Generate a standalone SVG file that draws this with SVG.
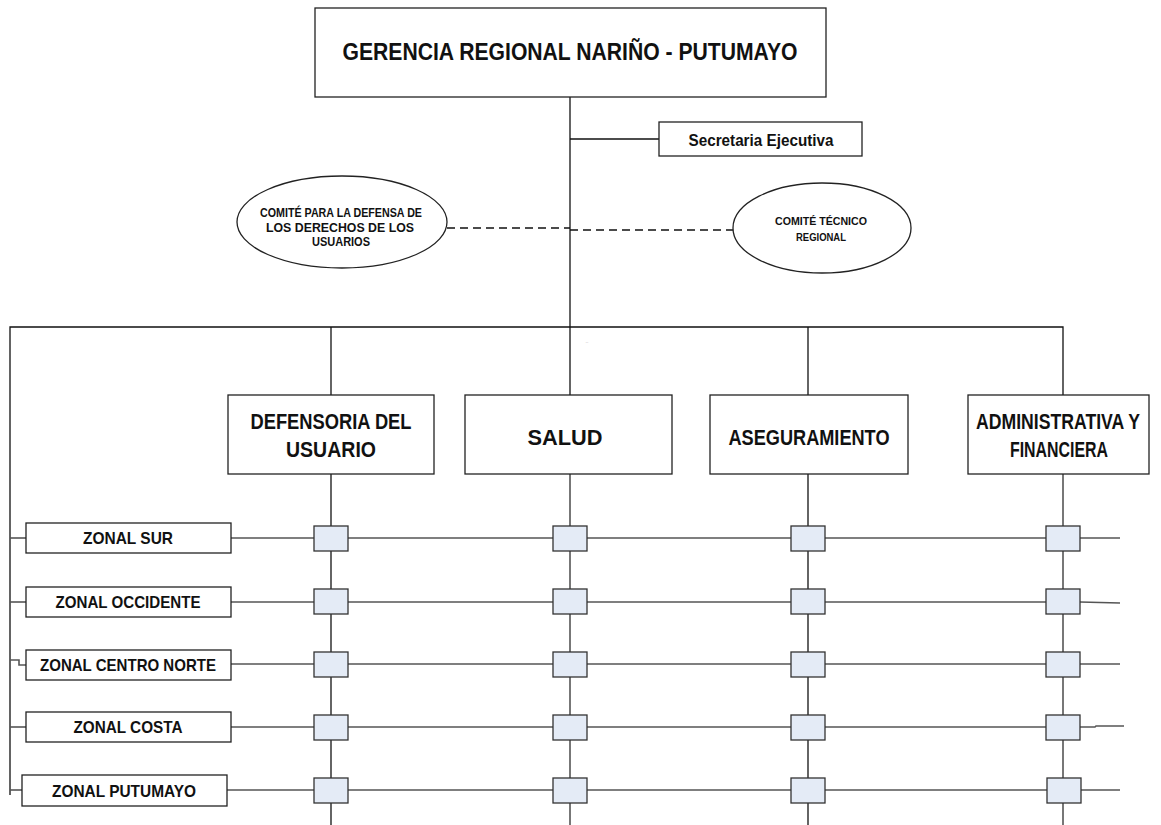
<svg xmlns="http://www.w3.org/2000/svg" width="1161" height="825" viewBox="0 0 1161 825">
<style>
.box{fill:#fff;stroke:#222;stroke-width:1.3}
.sq{fill:#e4ebf6;stroke:#333;stroke-width:1.3}
.ln{fill:none;stroke:#111;stroke-width:1.3}
.rl{fill:none;stroke:#555;stroke-width:1.6}
.ds{fill:none;stroke:#111;stroke-width:1.5;stroke-dasharray:8 5}
text{font-family:"Liberation Sans",Arial,sans-serif;font-weight:bold;fill:#111;text-anchor:middle}
.t1{font-size:24.5px}
.t2{font-size:17px}
.t3{font-size:12px}
.t4{font-size:11px}
.t5{font-size:22px}
.t6{font-size:17px}
</style>
<rect width="1161" height="825" fill="#fff"/>
<g id="connectors">
<line class="ln" x1="570" y1="97" x2="570" y2="395"/>
<line class="ln" x1="570" y1="139" x2="659" y2="139"/>
<line class="ds" x1="447" y1="228" x2="570" y2="228"/>
<line class="ds" x1="570" y1="230" x2="733" y2="230"/>
<polyline class="ln" points="10,795 10,327 1063,327 1063,395"/>
<line class="ln" x1="331" y1="327" x2="331" y2="395"/>
<line class="ln" x1="808" y1="327" x2="808" y2="395"/>
<line class="ln" x1="331" y1="474" x2="331" y2="825"/>
<line class="rl" x1="570" y1="474" x2="570" y2="825"/>
<line class="ln" x1="808" y1="474" x2="808" y2="825"/>
<line class="rl" x1="1063" y1="474" x2="1063" y2="825"/>
<line class="rl" x1="10" y1="538" x2="26" y2="538"/>
<line class="rl" x1="10" y1="602" x2="26" y2="602"/>
<polyline class="rl" points="10,660 19,660 19,665 26,665"/>
<line class="rl" x1="10" y1="727" x2="26" y2="727"/>
<line class="rl" x1="10" y1="790" x2="22" y2="790"/>
<line class="rl" x1="231" y1="538" x2="1120" y2="538"/>
<polyline class="rl" points="231,602 1080,602 1120,603"/>
<line class="rl" x1="231" y1="664" x2="1120" y2="664"/>
<polyline class="rl" points="231,727 1095,727 1096,726 1124,726"/>
<line class="rl" x1="227" y1="790" x2="1120" y2="790"/>
</g>
<g id="gerencia">
<rect class="box" x="315" y="8" width="511" height="89"/>
<text class="t1" x="570" y="60" textLength="455" lengthAdjust="spacingAndGlyphs">GERENCIA REGIONAL NARIÑO - PUTUMAYO</text>
</g>
<g id="secretaria">
<rect class="box" x="659" y="122" width="203" height="34"/>
<text class="t2" x="761" y="146" textLength="145" lengthAdjust="spacingAndGlyphs">Secretaria Ejecutiva</text>
</g>
<g id="comite-defensa">
<ellipse class="box" cx="342" cy="222" rx="105" ry="46"/>
<text class="t3" x="341" y="217" textLength="162" lengthAdjust="spacingAndGlyphs">COMITÉ PARA LA DEFENSA DE</text>
<text class="t3" x="340" y="232" textLength="148" lengthAdjust="spacingAndGlyphs">LOS DERECHOS DE LOS</text>
<text class="t3" x="341" y="246" textLength="58" lengthAdjust="spacingAndGlyphs">USUARIOS</text>
</g>
<g id="comite-tecnico">
<ellipse class="box" cx="822" cy="228" rx="89" ry="45"/>
<text class="t4" x="821" y="225" textLength="92" lengthAdjust="spacingAndGlyphs">COMITÉ TÉCNICO</text>
<text class="t4" x="821" y="241" textLength="50" lengthAdjust="spacingAndGlyphs">REGIONAL</text>
</g>
<text x="587" y="343" style="font-size:5px;fill:#999;font-weight:normal">..</text>
<g id="defensoria">
<rect class="box" x="228" y="395" width="206" height="79"/>
<text class="t5" x="331" y="429" textLength="161" lengthAdjust="spacingAndGlyphs">DEFENSORIA DEL</text>
<text class="t5" x="331" y="457" textLength="90" lengthAdjust="spacingAndGlyphs">USUARIO</text>
</g>
<g id="salud">
<rect class="box" x="465" y="395" width="207" height="79"/>
<text class="t5" x="565" y="445" textLength="75" lengthAdjust="spacingAndGlyphs">SALUD</text>
</g>
<g id="aseguramiento">
<rect class="box" x="710" y="395" width="198" height="79"/>
<text class="t5" x="809" y="445" textLength="161" lengthAdjust="spacingAndGlyphs">ASEGURAMIENTO</text>
</g>
<g id="administrativa">
<rect class="box" x="968" y="395" width="181" height="79"/>
<text class="t5" x="1058" y="429" textLength="164" lengthAdjust="spacingAndGlyphs">ADMINISTRATIVA Y</text>
<text class="t5" x="1059" y="457" textLength="98" lengthAdjust="spacingAndGlyphs">FINANCIERA</text>
</g>
<g id="zonal-sur">
<rect class="box" x="26" y="523" width="205" height="30"/>
<text class="t6" x="128" y="544" textLength="90" lengthAdjust="spacingAndGlyphs">ZONAL SUR</text>
</g>
<g id="zonal-occidente">
<rect class="box" x="26" y="587" width="205" height="30"/>
<text class="t6" x="128" y="608" textLength="145" lengthAdjust="spacingAndGlyphs">ZONAL OCCIDENTE</text>
</g>
<g id="zonal-centro-norte">
<rect class="box" x="26" y="650" width="205" height="30"/>
<text class="t6" x="128" y="671" textLength="176" lengthAdjust="spacingAndGlyphs">ZONAL CENTRO NORTE</text>
</g>
<g id="zonal-costa">
<rect class="box" x="26" y="712" width="205" height="30"/>
<text class="t6" x="128" y="733" textLength="109" lengthAdjust="spacingAndGlyphs">ZONAL COSTA</text>
</g>
<g id="zonal-putumayo">
<rect class="box" x="22" y="775" width="205" height="31"/>
<text class="t6" x="124" y="797" textLength="144" lengthAdjust="spacingAndGlyphs">ZONAL PUTUMAYO</text>
</g>
<g id="cells">
<rect class="sq" x="314" y="526" width="34" height="25"/>
<rect class="sq" x="553" y="526" width="34" height="25"/>
<rect class="sq" x="791" y="526" width="34" height="25"/>
<rect class="sq" x="1046" y="526" width="34" height="25"/>
<rect class="sq" x="314" y="589" width="34" height="25"/>
<rect class="sq" x="553" y="589" width="34" height="25"/>
<rect class="sq" x="791" y="589" width="34" height="25"/>
<rect class="sq" x="1046" y="589" width="34" height="25"/>
<rect class="sq" x="314" y="652" width="34" height="25"/>
<rect class="sq" x="553" y="652" width="34" height="25"/>
<rect class="sq" x="791" y="652" width="34" height="25"/>
<rect class="sq" x="1046" y="652" width="34" height="25"/>
<rect class="sq" x="314" y="715" width="34" height="25"/>
<rect class="sq" x="553" y="715" width="34" height="25"/>
<rect class="sq" x="791" y="715" width="34" height="25"/>
<rect class="sq" x="1046" y="715" width="34" height="25"/>
<rect class="sq" x="314" y="778" width="34" height="25"/>
<rect class="sq" x="553" y="778" width="34" height="25"/>
<rect class="sq" x="791" y="778" width="34" height="25"/>
<rect class="sq" x="1047" y="778" width="34" height="25"/>
</g>
</svg>
